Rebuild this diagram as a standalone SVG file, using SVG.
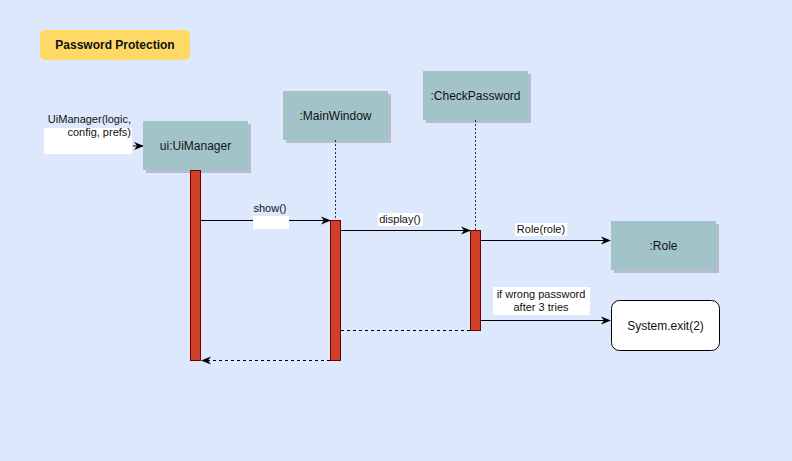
<svg xmlns="http://www.w3.org/2000/svg" width="792" height="461" viewBox="0 0 792 461">
<defs>
<style>
.bg{fill:#dde8fd}
.obj{fill:#a2c4c9;stroke:none}
.shadow{fill:#000;opacity:0.18}
.act{fill:#cd4128;stroke:#6f0000;stroke-width:1}
.life{stroke:#333;stroke-width:1;stroke-dasharray:2,2;fill:none}
.msg{stroke:#000;stroke-width:1;fill:none}
.ret{stroke:#000;stroke-width:1;fill:none;stroke-dasharray:3,3}
.t{font-family:"Liberation Sans",Arial,sans-serif;fill:#111}
.n{font-size:12px;text-anchor:middle}
.l{font-size:11px}
.lbg{fill:#fff}
</style>
<marker id="ah" viewBox="0 0 10 10" refX="9" refY="5" markerWidth="10" markerHeight="10" markerUnits="userSpaceOnUse" orient="auto">
<path d="M0,1 L10,5 L0,9 L3,5 Z" fill="#000"/>
</marker>
</defs>
<rect class="bg" x="0" y="0" width="792" height="461"/>

<g id="title">
<rect x="40" y="30" width="150" height="30" rx="5" fill="#ffd966"/>
<text class="t" x="115" y="49" font-size="12" font-weight="bold" text-anchor="middle">Password Protection</text>
</g>

<g id="connectors">
<line class="life" x1="335.5" y1="140" x2="335.5" y2="220"/>
<line class="life" x1="475.5" y1="120" x2="475.5" y2="230"/>
<rect class="lbg" x="44" y="128" width="88" height="26"/>
<line class="msg" x1="133" y1="146" x2="143" y2="146" marker-end="url(#ah)"/>
<line class="msg" x1="201" y1="220.5" x2="330" y2="220.5" marker-end="url(#ah)"/>
<rect class="lbg" x="253" y="216" width="36" height="13"/>
<line class="msg" x1="341" y1="230.5" x2="470" y2="230.5" marker-end="url(#ah)"/>
<line class="msg" x1="481" y1="240.5" x2="610" y2="240.5" marker-end="url(#ah)"/>
<line class="msg" x1="481" y1="320.5" x2="610" y2="320.5" marker-end="url(#ah)"/>
<line class="ret" x1="470" y1="330.5" x2="341" y2="330.5"/>
<line class="ret" x1="330" y1="360.5" x2="202" y2="360.5" marker-end="url(#ah)"/>
<text class="t l" x="131" y="123" text-anchor="end">UiManager(logic,</text>
<text class="t l" x="131" y="136" text-anchor="end">config, prefs)</text>
<text class="t l" x="270" y="212" text-anchor="middle">show()</text>
<rect class="lbg" x="378" y="213" width="45" height="13"/>
<text class="t l" x="400" y="223" text-anchor="middle">display()</text>
<rect class="lbg" x="515" y="223" width="52" height="13"/>
<text class="t l" x="541" y="233" text-anchor="middle">Role(role)</text>
<rect class="lbg" x="493" y="287" width="97" height="28"/>
<text class="t l" x="541" y="298" text-anchor="middle">if wrong password</text>
<text class="t l" x="541" y="311" text-anchor="middle">after 3 tries</text>
</g>

<g id="uimanager">
<rect class="shadow" x="146" y="124" width="105" height="49"/>
<rect class="obj" x="143" y="121" width="105" height="49"/>
<text class="t n" x="195.5" y="150">ui:UiManager</text>
<rect class="act" x="190.5" y="170.5" width="10" height="190"/>
</g>

<g id="mainwindow">
<rect class="shadow" x="286" y="94" width="105" height="49"/>
<rect class="obj" x="283" y="91" width="105" height="49"/>
<text class="t n" x="335.5" y="120">:MainWindow</text>
<rect class="act" x="330.5" y="220.5" width="10" height="140"/>
</g>

<g id="checkpassword">
<rect class="shadow" x="426" y="74" width="105" height="49"/>
<rect class="obj" x="423" y="71" width="105" height="49"/>
<text class="t n" x="475.5" y="100">:CheckPassword</text>
<rect class="act" x="470.5" y="230.5" width="10" height="100"/>
</g>

<g id="role">
<rect class="shadow" x="614" y="224" width="105" height="49"/>
<rect class="obj" x="611" y="221" width="105" height="49"/>
<text class="t n" x="663.5" y="250">:Role</text>
</g>

<g id="systemexit">
<rect x="611.5" y="300.5" width="108" height="50" rx="8" fill="#fff" stroke="#000"/>
<text class="t n" x="665.5" y="330">System.exit(2)</text>
</g>
</svg>
